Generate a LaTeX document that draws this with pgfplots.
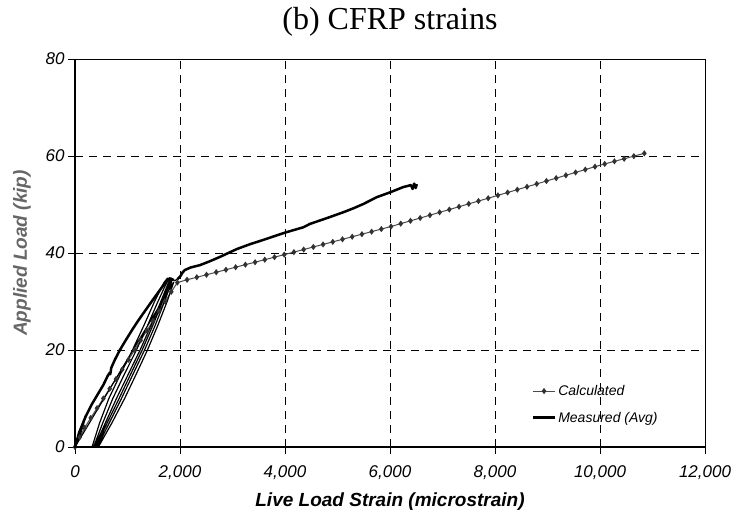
\documentclass[border=0pt]{standalone}
\usepackage{fontspec}
\setmainfont{Liberation Sans}
\newfontfamily\titlefont{Liberation Serif}
\usepackage{pgfplots}
\pgfplotsset{compat=1.18}
\definecolor{calcgray}{RGB}{75,75,75}
\definecolor{markgray}{RGB}{50,50,50}

\begin{document}
\begin{tikzpicture}
\begin{axis}[
    scale only axis, width=630pt, height=388pt,
    xmin=0, xmax=12000, ymin=0, ymax=80,
    xtick={0,2000,...,12000}, ytick={0,20,...,80},
    scaled x ticks=false,
    /pgf/number format/1000 sep={,},
    /pgf/number format/assume math mode=true,
    grid=major,
    major grid style={black, line width=0.8pt, dash pattern=on 8pt off 6pt},
    tick align=outside, tick pos=left, major tick length=7pt,
    tick style={black, line width=0.8pt},
    axis line style={line width=0.8pt},
    ticklabel style={font=\itshape\fontsize{17}{17}\selectfont},
    xticklabel style={yshift=-8pt},
    xlabel={Live Load Strain (microstrain)},
    xlabel style={font=\bfseries\itshape\fontsize{19}{19}\selectfont,
        at={(axis description cs:0.5,-0.1420)}, anchor=center},
    ylabel={Applied Load (kip)},
    ylabel style={font=\bfseries\itshape\fontsize{19}{19}\selectfont, black!60,
        at={(axis description cs:-0.0841,0.5)}, anchor=center},
    title={(b) CFRP strains},
    title style={font=\titlefont\fontsize{32}{32}\selectfont,
        at={(axis description cs:0.5,1.08)}, anchor=center},
    legend style={at={(axis description cs:0.72,0.17)}, anchor=north west,
        draw=none, fill=none, row sep=11pt,
        font=\itshape\fontsize{14}{14}\selectfont},
    legend cell align=left,
    legend image code/.code={\draw[mark repeat=2,mark phase=2,#1]
        plot coordinates {(0pt,0pt)(11pt,0pt)(22pt,0pt)};},
]
% calculated
\addplot[calcgray, line width=1pt, mark=diamond*, mark size=2.3pt,
    mark options={markgray, solid}] coordinates {
(0,0)(90,2)(185,4)(300,6)(420,8)(540,10)(660,12)(780,14)(900,16)(1020,18)
(1135,20)(1250,22)(1370,24)(1485,26)(1600,28)(1715,30)(1835,32)(1950,33.9)
(2135,34.48)(2320,35.00)(2505,35.51)(2690,36.03)(2875,36.55)(3060,37.07)
(3245,37.59)(3430,38.10)(3615,38.62)(3800,39.14)(3985,39.66)(4170,40.18)
(4355,40.71)(4540,41.24)(4725,41.77)(4910,42.29)(5095,42.82)(5280,43.35)
(5465,43.88)(5650,44.40)(5835,44.93)(6020,45.46)(6205,46.05)(6390,46.63)
(6575,47.21)(6760,47.79)(6945,48.38)(7130,48.96)(7315,49.54)(7500,50.13)
(7685,50.71)(7870,51.29)(8055,51.88)(8240,52.47)(8425,53.06)(8610,53.65)
(8795,54.24)(8980,54.84)(9165,55.43)(9350,56.02)(9535,56.61)(9720,57.20)
(9905,57.80)(10090,58.36)(10275,58.90)(10460,59.43)(10645,59.97)(10844,60.55)
};
\addlegendentry{Calculated}
% measured (avg): load cycles
\addplot[black, line width=1.2pt, line join=round, mark=none, forget plot] coordinates {
(0,0)(100,3.6)(200,6.5)(150,4.2)(60,1.2)(0,0)
(1880,34)(1755,30)(1575,25)(1380,20)(1165,15)(945,10)(705,5)(445,0)
(325,0)(470,5)(645,10)(865,15)(1095,20)(1310,25)(1515,30)(1700,34)(1760,34.8)(1830,34.6)
(1840,34)(1705,30)(1525,25)(1325,20)(1105,15)(885,10)(655,5)(420,0)
(355,0)(530,5)(720,10)(940,15)(1170,20)(1380,25)(1580,30)(1750,34)(1800,34.9)(1860,34.5)
(1812,34)(1668,30)(1480,25)(1280,20)(1060,15)(840,10)(615,5)(395,0)
(375,0)(580,5)(790,10)(1015,15)(1240,20)(1445,25)(1635,30)(1785,34)(1830,34.8)(1900,34.3)(1950,34.6)
};
% measured (avg): first loading and final loading
\addplot[black, line width=2.5pt, line join=round, mark=none] coordinates {
(0,0)(80,3)(200,6.2)(320,8.8)(430,10.8)(540,12.8)(620,14.6)(660,15.3)(672,15.0)
(690,16.3)(760,18.0)(850,19.9)(960,21.9)(1080,24.0)(1200,26.0)(1330,28.0)
(1460,30.0)(1580,31.8)(1680,33.3)(1760,34.4)(1830,34.7)(1880,34.4)
};
\addlegendentry{Measured (Avg)}
\addplot[black, line width=2.5pt, line join=round, mark=none, forget plot] coordinates {
(1950,34.6)(2000,35.1)(2050,36.0)(2095,36.5)(2200,37.0)(2381,37.5)(2570,38.3)(2762,39.2)
(3080,40.8)(3330,41.8)(3587,42.7)(4000,44.2)(4349,45.3)(4476,46.0)(4800,47.2)
(5111,48.4)(5300,49.2)(5492,50.1)(5746,51.5)(6000,52.5)(6254,53.6)(6400,54.0)
(6430,53.2)(6460,54.3)(6490,53.4)(6510,54.2)
};
\end{axis}
\draw[line width=2pt] (current axis.north west) -- (current axis.south west) -- (current axis.south east);
\pgfresetboundingbox
\path[use as bounding box] ([shift={(-75pt,-77pt)}]current axis.south west)
    rectangle ([shift={(35pt,59pt)}]current axis.north east);
\end{tikzpicture}
\end{document}
